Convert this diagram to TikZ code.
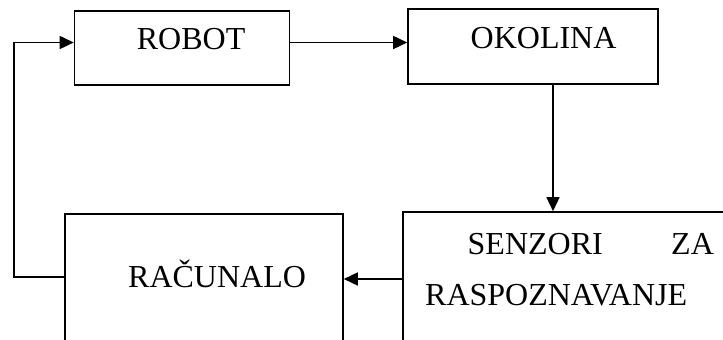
\documentclass[tikz,border=0pt]{standalone}
\usepackage{fontspec}
\setmainfont{Liberation Serif}
\usetikzlibrary{arrows.meta}
\begin{document}
\begin{tikzpicture}[x=1pt,y=1pt,
	box/.style={draw,line width=1.6pt,inner sep=0pt},
	lbl/.style={inner sep=0pt,anchor=base west,font=\fontsize{32}{38}\selectfont},
	arr/.style={line width=1.6pt,-{Triangle[length=14pt,width=13pt]}}]
	\useasboundingbox (0,0) rectangle (723,340);
	\clip (0,0) rectangle (723,340);
	\node[box,minimum width=215pt,minimum height=74pt] (robot) at (182,292) {};
	\node[box,minimum width=250pt,minimum height=75pt] (okolina) at (533,293.5) {};
	\node[box,minimum width=278pt,minimum height=146pt] (racunalo) at (204,53) {};
	\node[box,minimum width=342pt,minimum height=148pt] (senzori) at (574,54) {};
	\node[lbl] (trobot) at (136.7,290) {ROBOT};
	\node[lbl] (tokolina) at (470.5,291.7) {OKOLINA};
	\node[lbl] (tracunalo) at (128,52.7) {RAČUNALO};
	\node[lbl] (tsenzori) at (467.5,85) {SENZORI};
	\node[lbl] (tza) at (671,85) {ZA};
	\node[lbl] (traspoz) at (425,34) {RASPOZNAVANJE};
	\coordinate (loop) at (14,63);
	\draw[arr] ([yshift=5.5pt]robot.east) -- ([yshift=5.5pt]robot.east -| okolina.west);
	\draw[arr] ([xshift=20pt]okolina.south) -- ([xshift=20pt]okolina.south |- senzori.north);
	\draw[arr] ([yshift=7pt]senzori.west) -- ([yshift=7pt]senzori.west -| racunalo.east);
	\draw[arr] (racunalo.west |- loop) -- (loop) |- ([yshift=5.5pt]robot.west);
\end{tikzpicture}
\end{document}
